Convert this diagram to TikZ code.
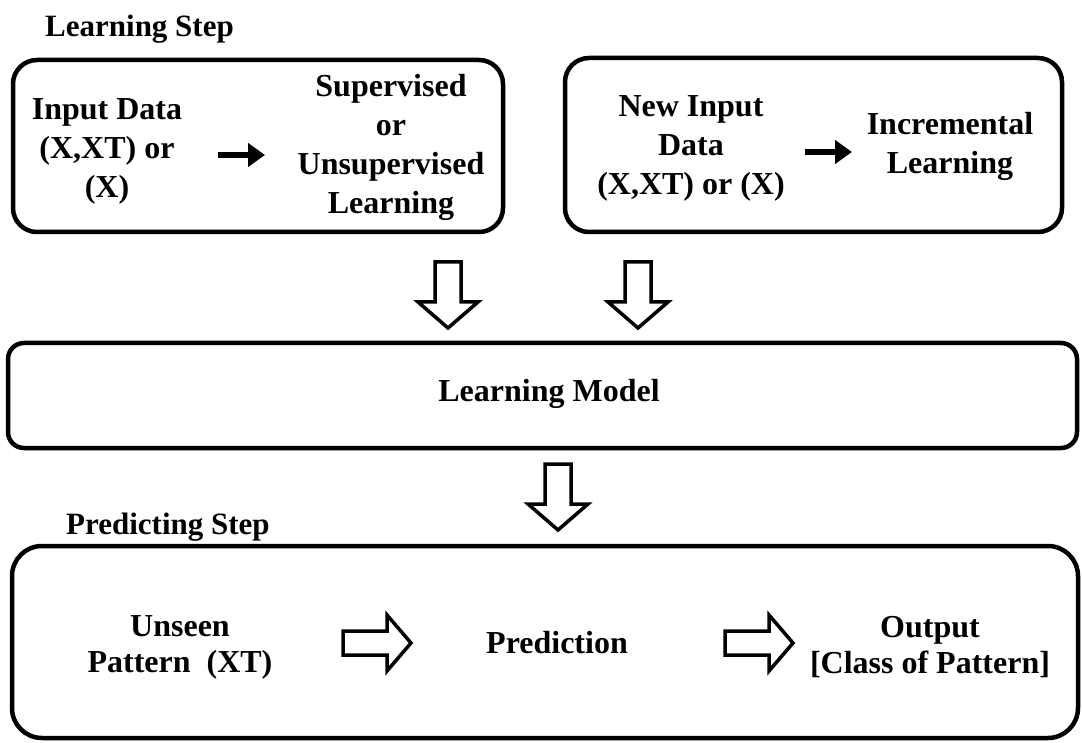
\documentclass[tikz,border=0pt]{standalone}
\usepackage{fontspec}
\setmainfont{Liberation Serif}
\usetikzlibrary{arrows.meta}
\begin{document}
\begin{tikzpicture}[x=1pt,y=-1pt,
  panel/.style={draw, line width=4.5pt, rounded corners=24pt, inner sep=0pt},
  lbl/.style={font=\fontsize{32}{39}\selectfont\bfseries, align=center, inner sep=0pt},
  steptitle/.style={font=\fontsize{31}{34}\selectfont\bfseries, anchor=west, inner sep=0pt},
  solidarrow/.style={line width=6pt, -{Triangle[length=17pt,width=23pt]}},
  blk/.style={draw, line width=3.5pt, fill=white, line join=miter},
  downblk/.pic={\draw[blk] (-13,0) -- (13,0) -- (13,40) -- (30,40) -- (0,66) -- (-30,40) -- (-13,40) -- cycle;},
  rightblk/.pic={\draw[blk] (0,-12) -- (44,-12) -- (44,-28) -- (68,0) -- (44,28) -- (44,12) -- (0,12) -- cycle;},
]
\useasboundingbox (0,0) rectangle (1082,743);

% panels
\node[panel, minimum width=490, minimum height=172] (learnA) at (258,146) {};
\node[panel, minimum width=497, minimum height=174] (learnB) at (813.5,145) {};
\node[panel, rounded corners=16pt, minimum width=1069, minimum height=105] (model) at (542.5,395.5) {};
\node[panel, rounded corners=30pt, minimum width=1066, minimum height=192] (predict) at (545,642) {};

% titles
\node[steptitle] (titleL) at (45,29) {Learning Step};
\node[steptitle] (titleP) at (66,527) {Predicting Step};

% learning step contents
\node[lbl] (in1) at (107,151) {Input Data\\(X,XT) or\\(X)};
\node[lbl] (sup) at (391,147) {Supervised\\or\\Unsupervised\\Learning};
\node[lbl] (new) at (691,148) {New Input\\Data\\(X,XT) or (X)};
\node[lbl] (inc) at (950,146) {Incremental\\Learning};

\coordinate (a1s) at (218,155);
\coordinate (a1e) at (265,155);
\coordinate (a2s) at (805,152);
\coordinate (a2e) at (852,152);
\draw[solidarrow] (a1s) -- (a1e);
\draw[solidarrow] (a2s) -- (a2e);

% flow into the model
\pic at (448,262) {downblk};
\pic at (638,262) {downblk};
\node[lbl] (modeltext) at (549,394) {Learning Model};
\pic at (558,464) {downblk};

% predicting step contents
\node[lbl, font=\fontsize{32}{36}\selectfont\bfseries] (unseen) at (180,647) {Unseen\\Pattern\ \ (XT)};
\node[lbl] (pred) at (557,643) {Prediction};
\node[lbl, font=\fontsize{32}{36}\selectfont\bfseries] (out) at (930,647) {Output\\{[}Class of Pattern{]}};
\pic at (343,643) {rightblk};
\pic at (725,643) {rightblk};
\end{tikzpicture}
\end{document}
